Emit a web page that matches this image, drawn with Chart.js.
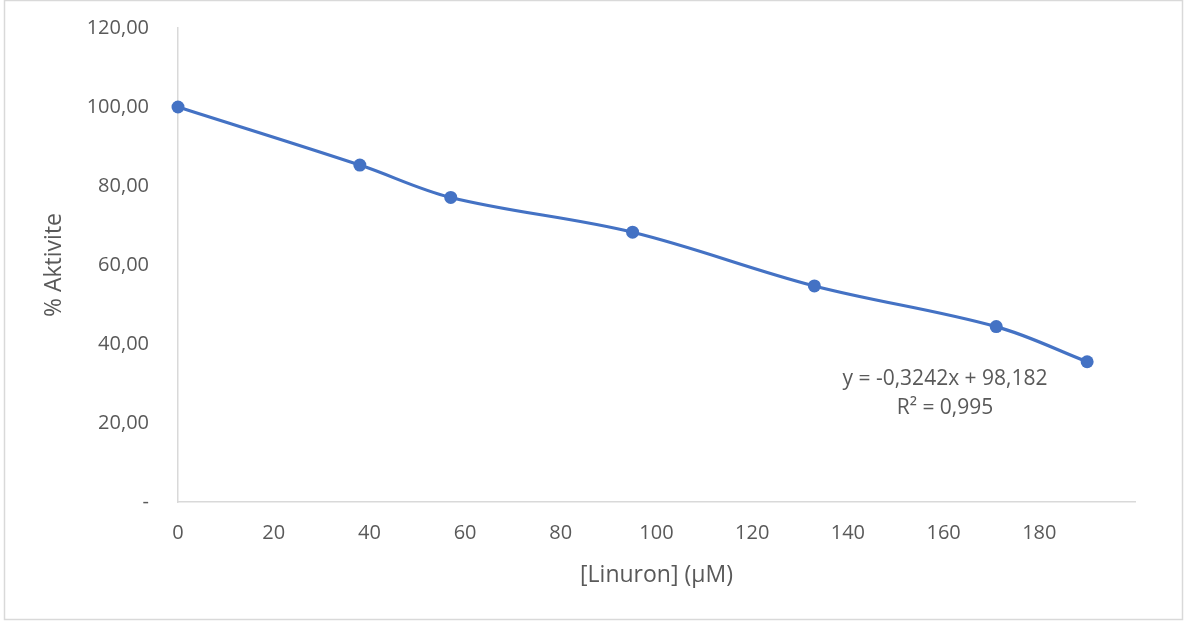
<!DOCTYPE html>
<html><head><meta charset="utf-8">
<script src="https://cdn.jsdelivr.net/npm/chart.js@4/dist/chart.umd.min.js"></script>
<style>html,body{margin:0;padding:0;background:#fff}#wrap{width:1188px;height:623px;position:relative}</style>
</head><body><div id="wrap"><canvas id="c"></canvas></div>
<script>
const concentrations = [0, 38, 57, 95, 133, 171, 190];
const activity = [100, 85.3, 77.1, 68.3, 54.7, 44.4, 35.5];
const xTickValues = [0, 20, 40, 60, 80, 100, 120, 140, 160, 180];
const yTickValues = [0, 20, 40, 60, 80, 100, 120];
const xTitle = '[Linuron] (μM)';
const yTitle = '% Aktivite';
const equationLines = ['y = -0,3242x + 98,182', 'R² = 0,995'];

const FONT = '"Open Sans", "Liberation Sans", sans-serif';
const TXT = '#595959';
const AXIS = '#d9d9d9';

const framePlugin = {
  id: 'frame',
  beforeDraw(chart) {
    const ctx = chart.ctx;
    ctx.save();
    ctx.fillStyle = '#fff';
    ctx.fillRect(0, 0, chart.width, chart.height);
    ctx.strokeStyle = AXIS;
    ctx.lineWidth = 1.5;
    ctx.strokeRect(4.5, 0.5, 1178, 619);
    ctx.restore();
  },
  afterDraw(chart) {
    const ctx = chart.ctx;
    ctx.save();
    ctx.fillStyle = TXT;
    ctx.font = '21px ' + FONT;
    ctx.textAlign = 'center';
    ctx.textBaseline = 'middle';
    ctx.fillText(equationLines[0], 945, 379);
    ctx.fillText(equationLines[1], 945, 408);
    ctx.restore();
  }
};

new Chart(document.getElementById('c'), {
  type: 'scatter',
  data: {
    datasets: [{
      data: concentrations.map((x, i) => ({x, y: activity[i]})),
      showLine: true,
      borderColor: '#4472C4',
      backgroundColor: '#4472C4',
      borderWidth: 3.2,
      pointRadius: 6.5,
      pointHoverRadius: 6.5,
      pointBorderWidth: 0,
      tension: 0.35,
      clip: false
    }]
  },
  options: {
    responsive: true,
    maintainAspectRatio: false,
    animation: false,
    devicePixelRatio: 1,
    layout: {padding: {top: 28, right: 53, left: 0, bottom: 0}},
    plugins: {legend: {display: false}, tooltip: {enabled: false}},
    scales: {
      x: {
        type: 'linear', min: 0, max: 200,
        afterBuildTicks: s => { s.ticks = xTickValues.map(v => ({value: v})); },
        afterFit: s => { s.height = 121; },
        grid: {display: false, drawTicks: false},
        border: {display: true, color: AXIS, width: 1.5},
        ticks: {color: TXT, font: {family: FONT, size: 20}, padding: 19, maxRotation: 0,
          callback: v => String(v)},
        title: {display: true, text: xTitle, color: TXT, font: {family: FONT, size: 23}, padding: {top: 0, bottom: 34}}
      },
      y: {
        type: 'linear', min: 0, max: 120,
        afterBuildTicks: s => { s.ticks = yTickValues.map(v => ({value: v})); },
        afterFit: s => { s.width = 178; s.paddingTop = 0; s.paddingBottom = 0; },
        grid: {display: false, drawTicks: false},
        border: {display: true, color: AXIS, width: 1.5},
        ticks: {color: TXT, font: {family: FONT, size: 20}, padding: 29,
          callback: v => v === 0 ? '-' : v.toFixed(2).replace('.', ',')},
        title: {display: true, text: yTitle, color: TXT, font: {family: FONT, size: 23}, padding: {top: 41, bottom: 0}}
      }
    }
  },
  plugins: [framePlugin]
});
</script></body></html>
